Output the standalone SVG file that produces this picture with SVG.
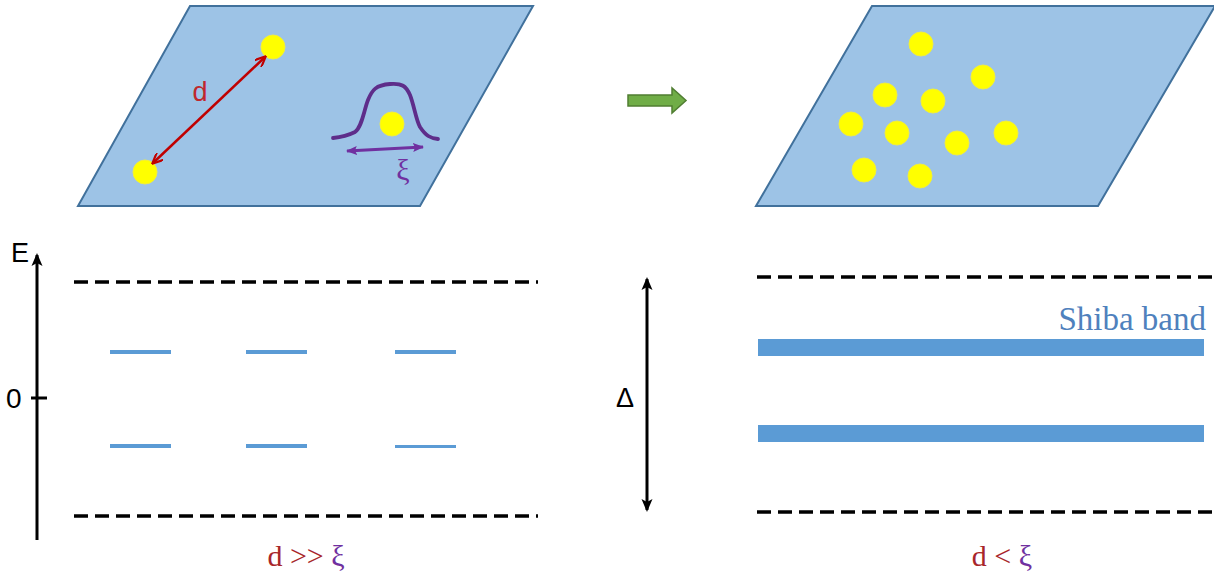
<svg xmlns="http://www.w3.org/2000/svg" width="1214" height="576" viewBox="0 0 1214 576">
<style>
.plane{fill:#9dc3e6;stroke:#41719c;stroke-width:2}
.dot{fill:#ffff00;stroke:#f2ef3a;stroke-width:1}
.dash{stroke:#000;stroke-width:3.5;stroke-dasharray:14 7;fill:none}
.lvl{stroke:#5b9bd5;stroke-width:4}
.band{fill:#5b9bd5}
.sans{font-family:"Liberation Sans",Arial,sans-serif}
.serif{font-family:"Liberation Serif","Times New Roman",serif}
</style>
<defs>
<marker id="redHead" markerUnits="userSpaceOnUse" markerWidth="12" markerHeight="10" refX="10" refY="5" orient="auto-start-reverse" viewBox="0 0 12 10">
<path d="M0,0 L11,5 L0,10" fill="none" stroke="#c00000" stroke-width="2.2"/>
</marker>
<marker id="purpleHead" markerUnits="userSpaceOnUse" markerWidth="12" markerHeight="10" refX="10" refY="5" orient="auto-start-reverse" viewBox="0 0 12 10">
<path d="M0,0.5 L11,5 L0,9.5 L2,5 Z" fill="#7030a0"/>
</marker>
<marker id="blackHead" markerUnits="userSpaceOnUse" markerWidth="14" markerHeight="12" refX="11" refY="6" orient="auto-start-reverse" viewBox="0 0 14 12">
<path d="M0,0.5 L13,6 L0,11.5 L3,6 Z" fill="#000"/>
</marker>
</defs>

<g id="plane-left">
<polygon class="plane" points="190,6 533,6 420,206 78,206"/>
<circle class="dot" cx="273" cy="47" r="12"/>
<circle class="dot" cx="145" cy="172" r="12"/>
<circle class="dot" cx="392" cy="124" r="12"/>
<path d="M333,138 C343,137 349,135 355,132 C362,127 364,110 368,100 C372,90 376,85 390,84 C402,83 406,86 410,95 C414,105 416,120 420,127 C426,136 430,138 438,139" fill="none" stroke="#5e2d8a" stroke-width="3.8" stroke-linecap="round"/>
<text class="sans" x="200" y="101" font-size="27" fill="#c0272d" text-anchor="middle">d</text>
<text class="serif" x="403" y="180" font-size="30" fill="#7030a0" text-anchor="middle">ξ</text>
</g>

<g id="plane-right">
<polygon class="plane" points="872,6 1215,6 1098,206 756,206"/>
<circle class="dot" cx="921" cy="44" r="12"/>
<circle class="dot" cx="983" cy="77" r="12"/>
<circle class="dot" cx="885" cy="95" r="12"/>
<circle class="dot" cx="933" cy="101" r="12"/>
<circle class="dot" cx="851" cy="124" r="12"/>
<circle class="dot" cx="897" cy="133" r="12"/>
<circle class="dot" cx="957" cy="143" r="12"/>
<circle class="dot" cx="1006" cy="133" r="12"/>
<circle class="dot" cx="864" cy="170" r="12"/>
<circle class="dot" cx="920" cy="176" r="12"/>
</g>

<g id="transition-arrow">
<polygon points="628,95 672,95 672,88 686,100.5 672,113 672,106 628,106" fill="#70ad47" stroke="#507e32" stroke-width="1.5"/>
</g>

<g id="spectrum-left">
<line class="dash" x1="74" y1="282" x2="538" y2="282"/>
<line class="dash" x1="74" y1="516" x2="538" y2="516"/>
<line class="lvl" x1="110" y1="352" x2="171" y2="352"/>
<line class="lvl" x1="246" y1="352" x2="307" y2="352"/>
<line class="lvl" x1="395" y1="352" x2="456" y2="352"/>
<line class="lvl" x1="110" y1="446" x2="171" y2="446"/>
<line class="lvl" x1="246" y1="446" x2="307" y2="446"/>
<line class="lvl" x1="395" y1="446.5" x2="456" y2="446.5" style="stroke-width:3"/>
<text class="sans" x="11" y="262" font-size="27" fill="#000">E</text>
<text class="sans" x="6" y="408" font-size="28" fill="#000">0</text>
<text class="serif" x="306" y="566" font-size="30" text-anchor="middle"><tspan fill="#a8262b">d &gt;&gt; </tspan><tspan fill="#7030a0">ξ</tspan></text>
</g>

<g id="spectrum-right">
<line class="dash" x1="757" y1="277" x2="1214" y2="277"/>
<line class="dash" x1="757" y1="512" x2="1214" y2="512"/>
<rect class="band" x="758" y="339" width="446" height="17"/>
<rect class="band" x="758" y="425" width="446" height="17"/>
<text class="serif" x="1206" y="330" font-size="33" fill="#4f81bd" text-anchor="end">Shiba band</text>
<text class="sans" x="625" y="407" font-size="27" fill="#000" text-anchor="middle">Δ</text>
<text class="serif" x="1002" y="566" font-size="30" text-anchor="middle"><tspan fill="#a8262b">d &lt; </tspan><tspan fill="#7030a0">ξ</tspan></text>
</g>

<g id="connectors">
<line x1="153" y1="163" x2="265" y2="57" stroke="#c00000" stroke-width="2.5" marker-start="url(#redHead)" marker-end="url(#redHead)"/>
<line x1="347" y1="151" x2="423" y2="147" stroke="#7030a0" stroke-width="2.8" marker-start="url(#purpleHead)" marker-end="url(#purpleHead)"/>
<line x1="37" y1="540" x2="37" y2="255" stroke="#000" stroke-width="3" marker-end="url(#blackHead)"/>
<line x1="31" y1="398" x2="47" y2="398" stroke="#000" stroke-width="3"/>
<line x1="647" y1="279" x2="647" y2="510" stroke="#000" stroke-width="3" marker-start="url(#blackHead)" marker-end="url(#blackHead)"/>
</g>
</svg>
